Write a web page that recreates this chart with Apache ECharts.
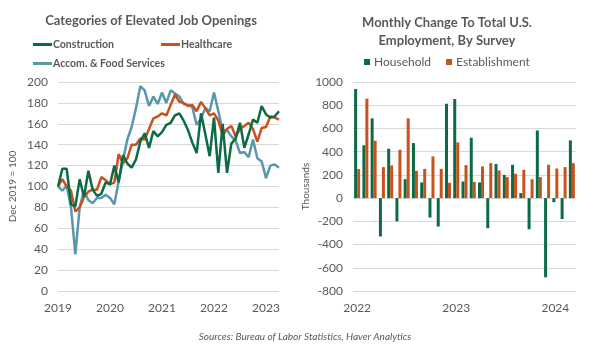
<!DOCTYPE html>
<html>
<head>
<meta charset="utf-8">
<script src="https://cdn.jsdelivr.net/npm/echarts@6/dist/echarts.min.js"></script>
<style>
  html, body { margin: 0; padding: 0; background: #fff; }
  #chart { width: 600px; height: 351px; }
</style>
</head>
<body>
<div id="chart"></div>
<script>
// left panel: monthly index, Jan 2019 - Apr 2023 (Dec 2019 = 100)
const months = [];
for (let y = 2019; y <= 2023; y++) {
  for (let m = 1; m <= 12; m++) {
    if (y === 2023 && m > 4) break;
    months.push(y + "-" + m);
  }
}
const construction = [100, 117, 117, 83, 81, 107, 90, 115, 97, 91, 93, 104,
  102, 120, 104, 130, 122, 118, 126, 143, 151, 137, 153, 148,
  152, 159, 161, 168, 170, 163, 154, 142, 132, 170, 150, 129,
  166, 113, 160, 113, 141, 146, 161, 137, 150, 164, 161, 177,
  169, 166, 167, 172];
const healthcare = [100, 107, 100, 96, 76, 80, 90, 95, 97, 97, 109, 106,
  102, 104, 131, 122, 127, 140, 140, 146, 145, 155, 165, 167,
  170, 168, 178, 188, 181, 180, 177, 178, 172, 181, 175, 168,
  170, 163, 149, 155, 158, 148, 155, 158, 161, 155, 143, 156,
  157, 167, 166, 164];
const accomFood = [100, 96, 101, 80, 35, 80, 96, 87, 84, 89, 89, 92,
  89, 83, 105, 125, 145, 157, 175, 196, 192, 177, 186, 179,
  190, 180, 192, 189, 186, 179, 178, 176, 159, 165, 175, 172,
  190, 172, 153, 154, 148, 144, 132, 133, 128, 145, 127, 124,
  108, 120, 121, 118];

// right panel: monthly change, thousands, Jan 2022 - Mar 2024
const surveyMonths = [];
for (let y = 2022; y <= 2024; y++) {
  for (let m = 1; m <= 12; m++) {
    if (y === 2024 && m > 3) break;
    surveyMonths.push(y + "-" + m);
  }
}
const household = [940, 455, 687, -330, 425, -200, 163, 474, 135, -167, -245, 813,
  853, 143, 520, 135, -259, 293, 200, 287, 43, -268, 583, -682,
  -35, -180, 497];
const establishment = [250, 856, 494, 267, 281, 416, 687, 235, 252, 359, 252, 132,
  480, 284, 140, 273, 301, 238, 181, 209, 244, 163, 181, 287,
  255, 267, 301];

const GREEN = "#0b6b45";
const ORANGE = "#c8521e";
const BLUE = "#5a97ae";
const TXT = "#595959";
const FONT = "Lato, 'Liberation Sans', sans-serif";

const yearLabel = v => v.split("-")[0];
const legendText = { fontSize: 10.5, fontWeight: "bold", color: TXT, padding: [0, 0, 0, -4] };

const chart = echarts.init(document.getElementById("chart"));
chart.setOption({
  animation: false,
  textStyle: { fontFamily: FONT },
  title: [
    {
      text: "Categories of Elevated Job Openings",
      left: 146, top: 9, textAlign: "center",
      textStyle: { fontSize: 13, fontWeight: "bold", color: TXT, fontFamily: FONT }
    },
    {
      text: "Monthly Change To Total U.S.\nEmployment, By Survey",
      left: 442, top: 9, textAlign: "center",
      textStyle: { fontSize: 13, fontWeight: "bold", color: TXT, fontFamily: FONT, lineHeight: 18 }
    },
    {
      text: "Sources: Bureau of Labor Statistics, Haver Analytics",
      left: 300, top: 327, textAlign: "center",
      textStyle: { fontSize: 10, fontStyle: "italic", fontWeight: "normal", color: TXT, fontFamily: FONT }
    }
  ],
  legend: [
    {
      data: ["Construction"], left: 28, top: 34, icon: "rect",
      itemWidth: 19, itemHeight: 3, textStyle: legendText
    },
    {
      data: ["Healthcare"], left: 156, top: 34, icon: "rect",
      itemWidth: 19, itemHeight: 3, textStyle: legendText
    },
    {
      data: ["Accom. & Food Services"], left: 28, top: 53, icon: "rect",
      itemWidth: 19, itemHeight: 3, textStyle: legendText
    },
    {
      data: ["Household", "Establishment"], left: 359, top: 51, icon: "rect",
      itemWidth: 6, itemHeight: 6, itemGap: 15,
      textStyle: { fontSize: 12, color: TXT, padding: [0, 0, 0, -1] }
    }
  ],
  grid: [
    { left: 58, right: 321, top: 82, bottom: 60 },
    { left: 353, right: 24, top: 82, bottom: 60 }
  ],
  xAxis: [
    {
      gridIndex: 0, type: "category", data: months, boundaryGap: false,
      axisLine: { show: false }, axisTick: { show: false },
      axisLabel: { interval: 11, formatter: yearLabel, color: TXT, fontSize: 12, margin: 11 }
    },
    {
      gridIndex: 1, type: "category", data: surveyMonths,
      axisLine: { show: false, onZero: false }, axisTick: { show: false },
      axisLabel: { interval: 11, formatter: yearLabel, color: TXT, fontSize: 12, margin: 11 }
    }
  ],
  yAxis: [
    {
      gridIndex: 0, type: "value", min: 0, max: 200, interval: 20,
      name: "Dec 2019 = 100", nameLocation: "middle", nameGap: 40,
      nameTextStyle: { fontSize: 10, color: TXT },
      axisLabel: { color: TXT, fontSize: 12, margin: 10 },
      splitLine: { lineStyle: { color: "#d9d9d9" } }
    },
    {
      gridIndex: 1, type: "value", min: -800, max: 1000, interval: 200,
      name: "Thousands", nameLocation: "middle", nameGap: 40,
      nameTextStyle: { fontSize: 10, color: TXT },
      axisLabel: { color: TXT, fontSize: 12, margin: 10, formatter: v => String(v) },
      splitLine: { lineStyle: { color: "#d9d9d9" } }
    }
  ],
  series: [
    {
      name: "Construction", type: "line", xAxisIndex: 0, yAxisIndex: 0,
      data: construction, showSymbol: false, color: GREEN,
      lineStyle: { width: 2.5 }, z: 4
    },
    {
      name: "Healthcare", type: "line", xAxisIndex: 0, yAxisIndex: 0,
      data: healthcare, showSymbol: false, color: ORANGE,
      lineStyle: { width: 2.5 }, z: 3
    },
    {
      name: "Accom. & Food Services", type: "line", xAxisIndex: 0, yAxisIndex: 0,
      data: accomFood, showSymbol: false, color: BLUE,
      lineStyle: { width: 2.5 }, z: 2
    },
    {
      name: "Household", type: "bar", xAxisIndex: 1, yAxisIndex: 1,
      data: household, color: GREEN, barWidth: 3, barGap: "0%"
    },
    {
      name: "Establishment", type: "bar", xAxisIndex: 1, yAxisIndex: 1,
      data: establishment, color: ORANGE, barWidth: 3, barGap: "0%"
    }
  ]
});
</script>
</body>
</html>
